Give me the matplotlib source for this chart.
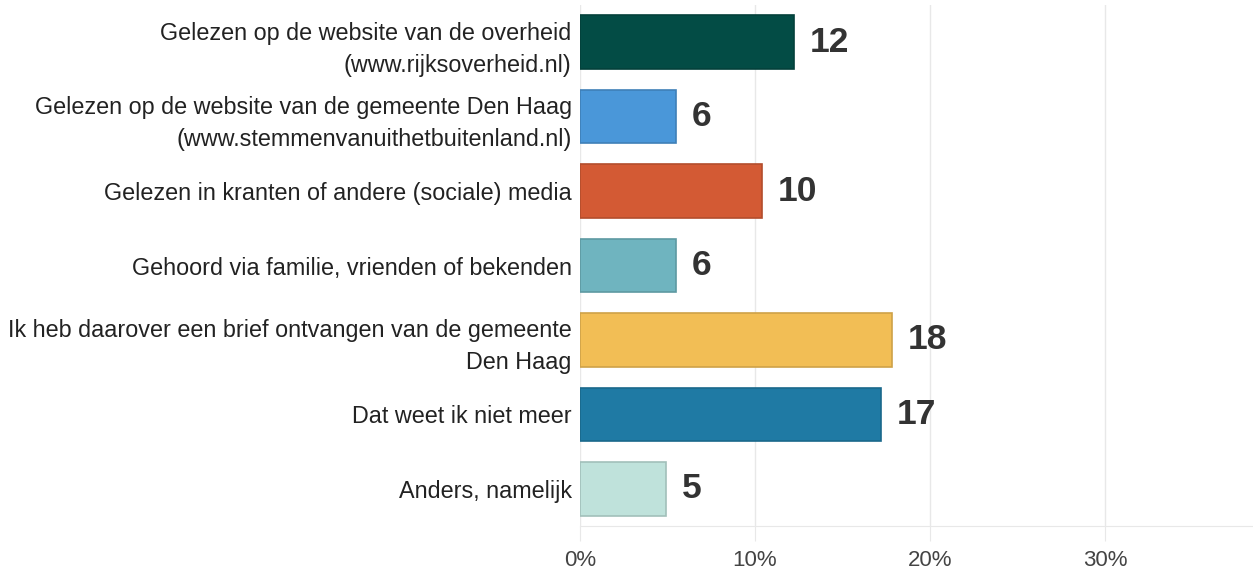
import matplotlib
matplotlib.use("Agg")
import matplotlib.pyplot as plt
import matplotlib.colors as mcolors

categories = [
    "Gelezen op de website van de overheid\n(www.rijksoverheid.nl)",
    "Gelezen op de website van de gemeente Den Haag\n(www.stemmenvanuithetbuitenland.nl)",
    "Gelezen in kranten of andere (sociale) media",
    "Gehoord via familie, vrienden of bekenden",
    "Ik heb daarover een brief ontvangen van de gemeente\nDen Haag",
    "Dat weet ik niet meer",
    "Anders, namelijk",
]
percentages = [12.2, 5.5, 10.4, 5.5, 17.8, 17.2, 4.9]
value_labels = ["12", "6", "10", "6", "18", "17", "5"]
colors = ["#034C45", "#4A97D9", "#D35A34", "#6FB4BF", "#F2BE55", "#1F7AA4", "#BFE2DB"]
xticks = [0, 10, 20, 30]
xtick_labels = ["0%", "10%", "20%", "30%"]

plt.rcParams['font.family'] = ['Liberation Sans', 'DejaVu Sans']

W, H = 1253, 573
fig = plt.figure(figsize=(W / 100, H / 100), dpi=100)
ax = fig.add_axes([580 / W, 1 - 526 / H, (1253 - 580) / W, (526 - 5) / H])

n = len(categories)
ypos = list(range(n))

def darker(c, f=0.85):
    r, g, b = mcolors.to_rgb(c)
    return (r * f, g * f, b * f)

edge = [darker(c) for c in colors]
ax.barh(ypos, percentages, height=0.72, color=colors, edgecolor=edge, linewidth=1.2, zorder=3)

for y, v, lab in zip(ypos, percentages, value_labels):
    ax.text(v + 0.9, y, lab, va="center", ha="left", fontsize=25.5, fontweight="bold",
            color="#333333", zorder=4)

ax.set_xlim(0, 38.45)
ax.set_ylim(n - 0.5, -0.5)
ax.set_yticks(ypos)
ax.set_yticklabels(categories, fontsize=16.8, color="#222222", linespacing=1.5)
ax.set_xticks(xticks)
ax.set_xticklabels(xtick_labels, fontsize=16, color="#444444")

ax.grid(axis="x", color="#E8E8E8", linewidth=1, zorder=0)
ax.tick_params(axis="y", length=0, pad=6)
ax.tick_params(axis="x", length=11, color="#E8E8E8", pad=6)
for s in ["top", "right", "left"]:
    ax.spines[s].set_visible(False)
ax.spines["bottom"].set_color("#E8E8E8")

fig.savefig("out.png", dpi=100, facecolor="white")
